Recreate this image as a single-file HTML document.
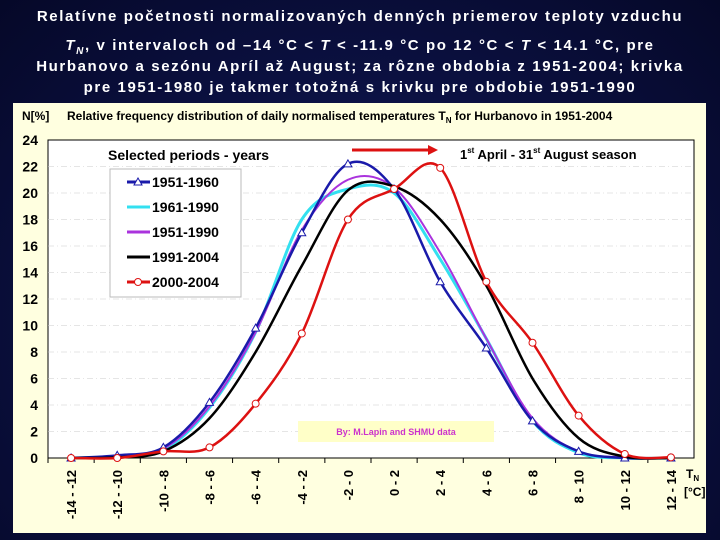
<!DOCTYPE html>
<html><head><meta charset="utf-8"><style>
body{margin:0;width:720px;height:540px;overflow:hidden;background:radial-gradient(ellipse at 50% 60%,#1a2466 0%,#0b1040 55%,#050828 100%);font-family:"Liberation Sans",Arial,sans-serif;}
.tl{position:absolute;left:0;width:720px;text-align:center;color:#fff;font-weight:bold;font-size:15px;letter-spacing:1.6px;line-height:18px;white-space:nowrap;}
</style></head><body>
<div>
<div class="tl" style="top:8px">Relatívne početnosti normalizovaných denných priemerov teploty vzduchu</div>
<div class="tl" style="top:37px"><i>T<sub style="font-size:10px;line-height:0">N</sub></i>, v intervaloch od –14 °C &lt; <i>T</i> &lt; -11.9 °C po 12 °C &lt; <i>T</i> &lt; 14.1 °C, pre</div>
<div class="tl" style="top:58px">Hurbanovo a sezónu Apríl až August; za rôzne obdobia z 1951-2004; krivka</div>
<div class="tl" style="top:79px">pre 1951-1980 je takmer totožná s krivku pre obdobie 1951-1990</div>
</div>
<svg id="chart" width="720" height="540" style="position:absolute;left:0;top:0"></svg>
<script>
const categories=["-14 - -12","-12 - -10","-10 - -8","-8 - -6","-6 - -4","-4 - -2","-2 - 0","0 - 2","2 - 4","4 - 6","6 - 8","8 - 10","10 - 12","12 - 14"];
const yTicks=[0,2,4,6,8,10,12,14,16,18,20,22,24];
const s1951_1960=[0,0.2,0.8,4.2,9.8,17,22.2,20.3,13.3,8.3,2.8,0.5,0,0];
const s1961_1990=[0,0.1,0.6,3.8,9.5,18,20.3,20,15,9,2.8,0.4,0,0];
const s1951_1990=[0,0.1,0.7,3.9,9.5,17.2,21,20.4,15.5,9,3,0.5,0.05,0];
const s1991_2004=[0,0.05,0.5,3,8,14.5,20.2,20.5,18,13,6,1.5,0.1,0];
const s2000_2004=[0,0,0.5,0.8,4.1,9.4,18,20.3,21.9,13.3,8.7,3.2,0.3,0.05];
const legendNames=["1951-1960","1961-1990","1951-1990","1991-2004","2000-2004"];
const NS="http://www.w3.org/2000/svg";
const svg=document.getElementById('chart');
function el(t,a,p){const e=document.createElementNS(NS,t);for(const k in a)e.setAttribute(k,a[k]);(p||svg).appendChild(e);return e;}
const L=48,R=694,T=140,B=458;
const bw=(R-L)/categories.length;
const xs=i=>L+bw*(i+0.5);
const ys=v=>B-(v/24)*(B-T);
let e;
e=el('rect',{x:13,y:103,width:693,height:430,fill:'#ffffe0'});

e=el('rect',{x:L,y:T,width:R-L,height:B-T,fill:'#fff',stroke:'#000','stroke-width':1});

e=el('text',{x:22,y:120,'font-size':12,'font-weight':'bold'});e.textContent='N[%]';

e=el('text',{x:67,y:120,'font-size':12,'font-weight':'bold'});e.innerHTML='Relative frequency distribution of daily normalised temperatures T<tspan font-size="8" dy="3">N</tspan><tspan dy="-3"> for Hurbanovo in 1951-2004</tspan>';

yTicks.forEach(v=>{
 if(v>0&&v<24){e=el('line',{x1:L,x2:R,y1:ys(v),y2:ys(v),stroke:'#ccc','stroke-width':0.6,'stroke-dasharray':'6 3 1 3'});
 }
 e=el('text',{x:38,y:ys(v)+5,'font-size':14,'font-weight':'bold','text-anchor':'end'});e.textContent=v;
 
});
categories.forEach((c,i)=>{
 e=el('line',{x1:L+bw*i,x2:L+bw*i,y1:B,y2:B+5,stroke:'#000'});
 
 const x=xs(i)+5,y=B+12;
 e=el('text',{x:x,y:y,'font-size':13,'font-weight':'bold','text-anchor':'end',transform:`rotate(-90 ${x} ${y})`});e.textContent=c;
 
});
e=el('text',{x:686,y:478,'font-size':12,'font-weight':'bold'});e.innerHTML='T<tspan font-size="8" dy="3">N</tspan>';

e=el('text',{x:684,y:496,'font-size':12,'font-weight':'bold'});e.textContent='[°C]';

e=el('rect',{x:298,y:421,width:196,height:21,fill:'#ffffc8'});

e=el('text',{x:396,y:435,'font-size':9,'font-weight':'bold',fill:'#cc33cc','text-anchor':'middle'});e.textContent='By: M.Lapin and SHMU data';

function path(d){const p=d.map((v,i)=>[xs(i),ys(v)]);let s=`M${p[0][0]},${p[0][1]}`;
 for(let i=0;i<p.length-1;i++){const p0=p[i-1]||p[i],p1=p[i],p2=p[i+1],p3=p[i+2]||p2;
 s+=` C${p1[0]+(p2[0]-p0[0])/6},${p1[1]+(p2[1]-p0[1])/6} ${p2[0]-(p3[0]-p1[0])/6},${p2[1]-(p3[1]-p1[1])/6} ${p2[0]},${p2[1]}`;}return s;}
const series=[[s1961_1990,'#33e0f0',3,null,'series-1961-1990'],[s1951_1990,'#aa33dd',2,null,'series-1951-1990'],[s1951_1960,'#1a1aaa',2.5,'tri','series-1951-1960'],[s1991_2004,'#000',2.5,null,'series-1991-2004'],[s2000_2004,'#dd1111',2.5,'circ','series-2000-2004']];
series.forEach(([d,c,w,m,n])=>{
 e=el('path',{d:path(d),fill:'none',stroke:c,'stroke-width':w});
 
 if(m)d.forEach((v,i)=>{const x=xs(i),y=ys(v);
  if(m=='tri')e=el('path',{d:`M${x},${y-4}L${x+4},${y+3}L${x-4},${y+3}Z`,fill:'#fff',stroke:c,'stroke-width':1});
  else e=el('circle',{cx:x,cy:y,r:3.5,fill:'#fff',stroke:c,'stroke-width':1});
  });
});
e=el('text',{x:108,y:160,'font-size':14,'font-weight':'bold'});e.textContent='Selected periods - years';

e=el('rect',{x:110,y:169,width:131,height:128,fill:'#fff',stroke:'#bbb'});

const lc=['#1a1aaa','#33e0f0','#aa33dd','#000','#dd1111'],lm=['tri',null,null,null,'circ'];
legendNames.forEach((n,i)=>{const y=182+i*25;
 e=el('line',{x1:127,x2:150,y1:y,y2:y,stroke:lc[i],'stroke-width':3});
 
 if(lm[i]=='tri'){e=el('path',{d:`M138,${y-4}L142,${y+3}L134,${y+3}Z`,fill:'#fff',stroke:lc[i]});}
 if(lm[i]=='circ'){e=el('circle',{cx:138,cy:y,r:3.5,fill:'#fff',stroke:lc[i]});}
 e=el('text',{x:152,y:y+5,'font-size':14,'font-weight':'bold'});e.textContent=n;
 
});
e=el('line',{x1:352,x2:430,y1:150,y2:150,stroke:'#dd1111','stroke-width':3});

e=el('path',{d:'M438,150L428,145L428,155Z',fill:'#dd1111'});

e=el('text',{x:460,y:159,'font-size':13,'font-weight':'bold'});e.innerHTML='1<tspan font-size="8" dy="-6">st</tspan><tspan dy="6"> April - 31</tspan><tspan font-size="8" dy="-6">st</tspan><tspan dy="6"> August season</tspan>';

</script></body></html>
